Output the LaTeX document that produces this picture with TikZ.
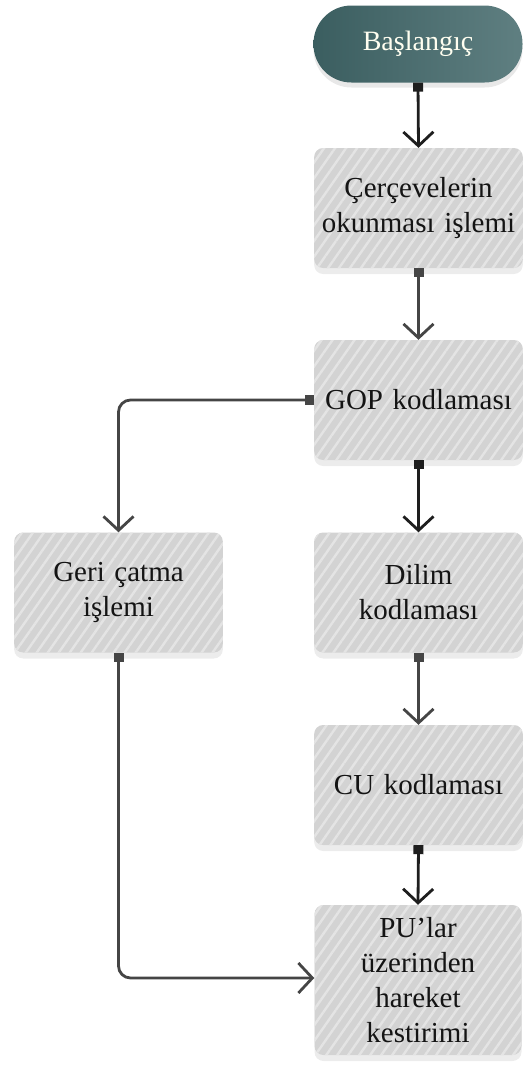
\documentclass[tikz,border=0pt]{standalone}
\usepackage{fontspec}
\setmainfont{Liberation Serif}
\usetikzlibrary{arrows.meta,patterns.meta,shadows,positioning,calc}
\definecolor{startA}{HTML}{3B5E60}
\definecolor{startB}{HTML}{5F7F81}
\definecolor{boxgray}{HTML}{D3D3D3}
\definecolor{hatch}{HTML}{E4E4E4}
\definecolor{linkdark}{HTML}{1E1E1E}
\definecolor{linkgray}{HTML}{454545}
\tikzset{
  startbox/.style={rounded corners=38pt, minimum width=209pt, minimum height=77pt,
    left color=startA, right color=startB,
    text=white!94!yellow, font=\fontsize{28}{32}\selectfont,
    drop shadow={shadow xshift=0pt, shadow yshift=-5pt, opacity=0.18, fill=gray}},
  stepbox/.style={rounded corners=9pt, minimum width=207pt, minimum height=120pt,
    fill=boxgray, text width=202pt, align=center,
    font=\fontsize{29}{35}\selectfont, text=black!92,
    drop shadow={shadow xshift=0pt, shadow yshift=-6pt, opacity=0.15, fill=gray},
    postaction={pattern={Lines[angle=55, distance=9pt, line width=2.4pt]}, pattern color=hatch}},
  link/.style={line width=2.8pt, draw=linkgray,
    {Square[length=9pt,width=10pt]}-{Straight Barb[length=14pt,width=30pt,line width=2.8pt]}},
  linkblack/.style={link, draw=linkdark},
}
\begin{document}
\begin{tikzpicture}[x=1pt,y=-1pt]
\useasboundingbox (0,0) rectangle (527,1066);

\node[startbox] (start) at (418,44) {Başlangıç};
\node[stepbox] (read) at (418.5,208) {Çerçevelerin\\okunması işlemi};
\node[stepbox] (gop) at (418.5,400) {GOP kodlaması};
\node[stepbox] (geri) at (118.5,592.5) {Geri çatma\\işlemi};
\node[stepbox] (dilim) at (418.5,592.5) {Dilim\\kodlaması};
\node[stepbox] (cu) at (418.5,785) {CU kodlaması};
\node[stepbox, minimum height=150pt, text width=150pt] (pu) at (418,980)
  {PU’lar\\üzerinden\\hareket\\kestirimi};

\draw[linkblack] (start.south) -- (read.north);
\draw[link] (read.south) -- (gop.north);
\draw[linkblack] (gop.south) -- (dilim.north);
\draw[link] (dilim.south) -- (cu.north);
\draw[linkblack] (cu.south) -- (pu.north);
\draw[link, rounded corners=12pt] (gop.west) -| (geri.north);
\draw[link, rounded corners=12pt] (geri.south) |- ($(pu.west)+(0,-2)$);
\end{tikzpicture}
\end{document}
